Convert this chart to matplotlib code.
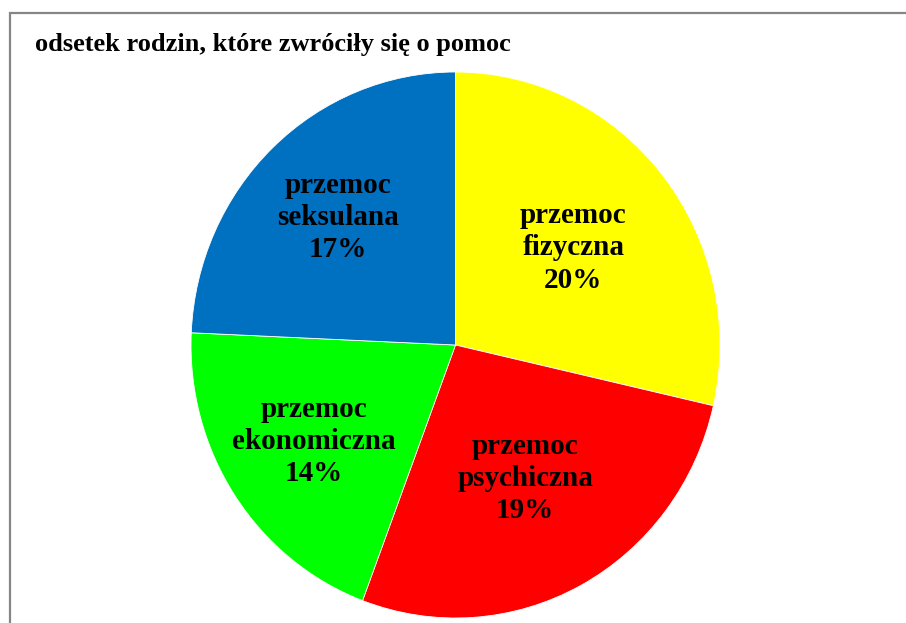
import matplotlib
matplotlib.use("Agg")
import matplotlib.pyplot as plt
from matplotlib.patches import Rectangle
import numpy as np

plt.rcParams['font.family'] = ['Liberation Serif', 'DejaVu Serif']

# data
categories = ['przemoc\nfizyczna', 'przemoc\npsychiczna', 'przemoc\nekonomiczna', 'przemoc\nseksulana']
values = [20, 19, 14, 17]
shown_pct = ['20%', '19%', '14%', '17%']
colors = ['#FFFF00', '#FF0000', '#00FF00', '#0070C0']
title = 'odsetek rodzin, które zwróciły się o pomoc'

W, H = 906, 623
fig = plt.figure(figsize=(W / 100, H / 100), dpi=100)

# pie area (pixels): x 191..720, y 72..618
ax = fig.add_axes([191 / W, (H - 618) / H, 529 / W, 546 / H])
wedges, _ = ax.pie(values, colors=colors, startangle=90, counterclock=False,
                   wedgeprops={'edgecolor': 'white', 'linewidth': 0.6})
ax.set_aspect('auto')
ax.set_xlim(-1, 1)
ax.set_ylim(-1, 1)
ax.axis('off')

#label distance from centre, per slice
dists = [0.57, 0.555, 0.64, 0.645]
for w, cat, pct, d in zip(wedges, categories, shown_pct, dists):
    ang = np.deg2rad((w.theta1 + w.theta2) / 2)
    ax.text(d * np.cos(ang), d * np.sin(ang), cat + '\n' + pct,
            ha='center', va='center', fontsize=21, fontweight='bold',
            linespacing=1.25, color='black')

fig.text(35 / W, 1 - 45 / H, title, ha='left', va='center',
         fontsize=19, fontweight='bold')

# chart frame (cut off at right and bottom)
fig.patches.append(Rectangle((10 / W, -0.05), 1.1, 1 - 13 / H + 0.05,
                             transform=fig.transFigure, fill=False,
                             edgecolor='#868686', linewidth=1.6))

fig.savefig('out.png', dpi=100)
